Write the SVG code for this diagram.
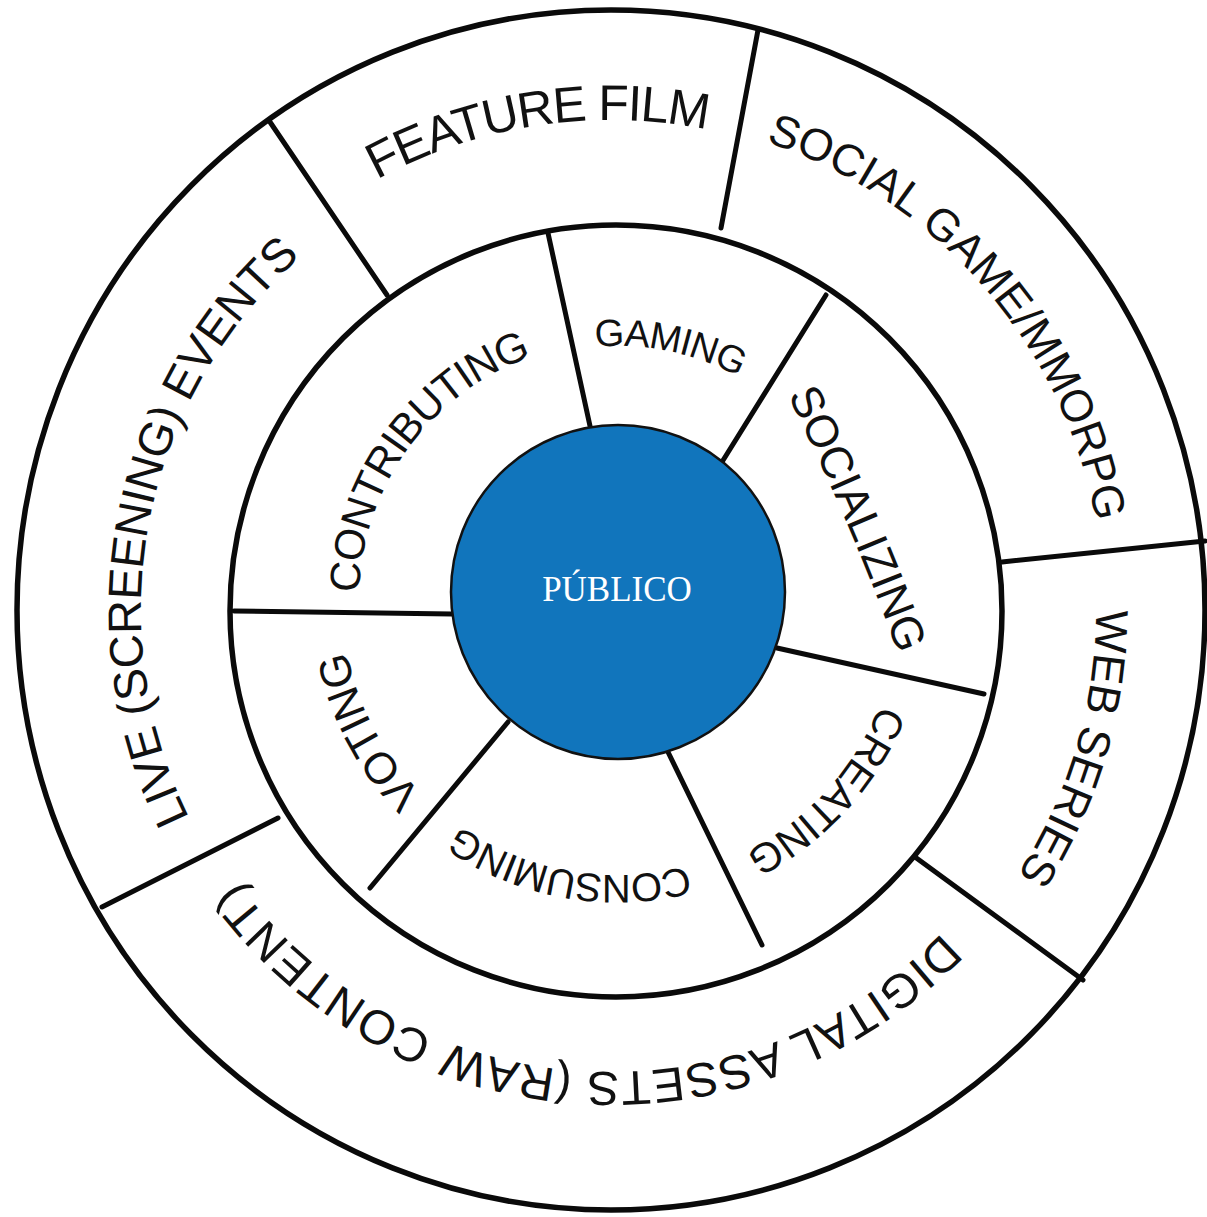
<svg xmlns="http://www.w3.org/2000/svg" width="1207" height="1217" viewBox="0 0 1207 1217">
<style>
.ring{fill:none;stroke:#0a0a0a;stroke-width:5.5}
.div{stroke:#0a0a0a;stroke-width:5;stroke-linecap:round;fill:none}
.lbl{font-family:'Liberation Sans',Arial,sans-serif;fill:#111;text-anchor:middle}
.pub{font-family:'Liberation Serif','DejaVu Serif',serif;fill:#fff;text-anchor:middle;font-size:35px}
</style>
<defs>
<path id="pFeature" d="M121.1,598.9 A490,490 0 0 1 1075.1,452.9"/>
<path id="pSocial" d="M357.1,187.4 A493,493 0 0 1 994.1,920.3"/>
<path id="pWeb" d="M827.4,176 A485,485 0 0 1 556.1,1091.9"/>
<path id="pDigital" d="M1058.9,723.3 A462,462 0 0 1 151.4,656.7"/>
<path id="pLive" d="M441,1048.2 A470,470 0 0 1 620.8,140.1"/>
<path id="pContrib" d="M431.4,779.2 A258,258 0 0 1 730.1,368.1"/>
<path id="pGaming" d="M381.1,505.8 A254,254 0 0 1 870.9,607.8"/>
<path id="pSocializing" d="M760.9,342.8 Q854.1,520.2 918.1,710"/>
<path id="pCreating" d="M840.9,426.9 A283,283 0 0 1 465.8,839.2"/>
<path id="pConsuming" d="M875.5,693.8 A275,275 0 0 1 342,600.2"/>
<path id="pVoting" d="M701.5,861.7 A275,275 0 0 1 448.1,383"/>
</defs>
<rect width="1207" height="1217" fill="#fff"/>
<g id="rings">
<ellipse class="ring" cx="611" cy="610" rx="594" ry="600"/>
<circle class="ring" cx="616" cy="611" r="386"/>
</g>
<g id="connectors">
<line class="div" x1="270" y1="122" x2="387" y2="295"/>
<line class="div" x1="758" y1="30" x2="721" y2="228"/>
<line class="div" x1="1002" y1="562" x2="1205" y2="541"/>
<line class="div" x1="915" y1="857" x2="1083" y2="980"/>
<line class="div" x1="278" y1="818" x2="102" y2="907"/>
<line class="div" x1="548" y1="233" x2="590" y2="426"/>
<line class="div" x1="826" y1="295" x2="722" y2="462"/>
<line class="div" x1="777" y1="648" x2="984" y2="694"/>
<line class="div" x1="668" y1="752" x2="762" y2="945"/>
<line class="div" x1="508" y1="722" x2="370" y2="888"/>
<line class="div" x1="234" y1="611" x2="452" y2="614"/>
</g>
<g id="feature-film"><text class="lbl" font-size="50" letter-spacing="-1.5"><textPath href="#pFeature" startOffset="50%">FEATURE FILM</textPath></text></g>
<g id="social-game"><text class="lbl" font-size="45"><textPath href="#pSocial" startOffset="50%">SOCIAL GAME/MMORPG</textPath></text></g>
<g id="web-series"><text class="lbl" font-size="45.5" letter-spacing="-0.3"><textPath href="#pWeb" startOffset="50%">WEB SERIES</textPath></text></g>
<g id="digital-assets"><text class="lbl" font-size="48" letter-spacing="0.8"><textPath href="#pDigital" startOffset="50%">DIGITAL ASSETS (RAW CONTENT)</textPath></text></g>
<g id="live-events"><text class="lbl" font-size="47" letter-spacing="-0.55"><textPath href="#pLive" startOffset="50%">LIVE (SCREENING) EVENTS</textPath></text></g>
<g id="contributing"><text class="lbl" font-size="42.5" letter-spacing="-1.1"><textPath href="#pContrib" startOffset="50%">CONTRIBUTING</textPath></text></g>
<g id="gaming"><text class="lbl" font-size="38" letter-spacing="-1"><textPath href="#pGaming" startOffset="50%">GAMING</textPath></text></g>
<g id="socializing"><text class="lbl" font-size="45" letter-spacing="-0.3"><textPath href="#pSocializing" startOffset="50%">SOCIALIZING</textPath></text></g>
<g id="creating"><text class="lbl" font-size="41.5" letter-spacing="-0.9"><textPath href="#pCreating" startOffset="50%">CREATING</textPath></text></g>
<g id="consuming"><text class="lbl" font-size="40" letter-spacing="-1.2"><textPath href="#pConsuming" startOffset="50%">CONSUMING</textPath></text></g>
<g id="voting"><text class="lbl" font-size="44" letter-spacing="-0.9"><textPath href="#pVoting" startOffset="50%">VOTING</textPath></text></g>
<g id="publico">
<circle cx="618" cy="592" r="167" fill="#1175BC" stroke="#111" stroke-width="2.5"/>
<text class="pub" x="617" y="601">PÚBLICO</text>
</g>
</svg>
